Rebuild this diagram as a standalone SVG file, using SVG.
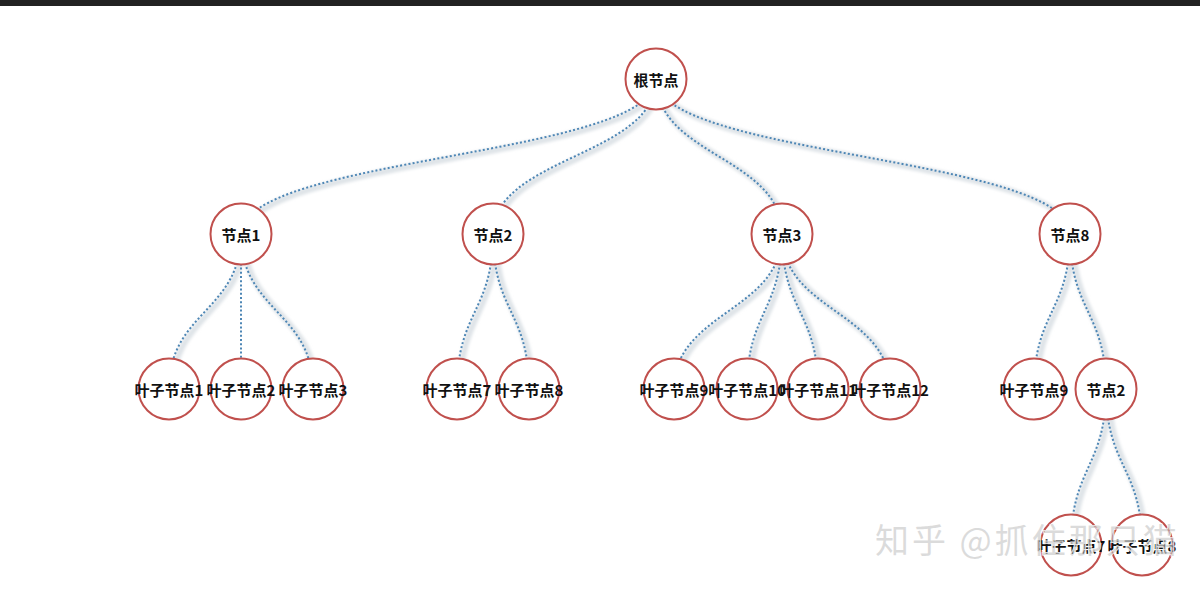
<svg xmlns="http://www.w3.org/2000/svg" width="1200" height="591" viewBox="0 0 1200 591">
<defs>
<filter id="sh" x="-10%" y="-10%" width="120%" height="120%"><feGaussianBlur stdDeviation="1.5"/></filter>
<style>
.sh{fill:none;stroke:#dfe4e8;stroke-width:6;filter:url(#sh)}
.ln{fill:none;stroke:#4d86b5;stroke-width:2;stroke-dasharray:2 2.2}
.nd circle{fill:#fff;stroke:#c0504d;stroke-width:2}
.nd text{font-family:"Noto Sans CJK SC","Noto Sans",sans-serif;font-weight:bold;font-size:15px;fill:#111;text-anchor:middle;dominant-baseline:central}
.wm{font-family:"Noto Sans CJK SC",sans-serif;font-size:34px;letter-spacing:3px;fill:#bdbdbd;fill-opacity:0.55;stroke:#fff;stroke-width:1.2;stroke-opacity:0.9;paint-order:stroke}
</style>
</defs>
<rect width="1200" height="591" fill="#fff"/>
<rect width="1200" height="6" fill="#222"/>
<g id="connectors">
<g transform="translate(3,2)">
<path class="sh" d="M656 79C656 156.5 241 156.5 241 234"/>
<path class="sh" d="M656 79C656 156.5 493 156.5 493 234"/>
<path class="sh" d="M656 79C656 156.5 782 156.5 782 234"/>
<path class="sh" d="M656 79C656 156.5 1070 156.5 1070 234"/>
<path class="sh" d="M241 234C241 311.5 169 311.5 169 389"/>
<path class="sh" d="M241 234L241 389"/>
<path class="sh" d="M241 234C241 311.5 313 311.5 313 389"/>
<path class="sh" d="M493 234C493 311.5 457 311.5 457 389"/>
<path class="sh" d="M493 234C493 311.5 529 311.5 529 389"/>
<path class="sh" d="M782 234C782 311.5 674 311.5 674 389"/>
<path class="sh" d="M782 234C782 311.5 747 311.5 747 389"/>
<path class="sh" d="M782 234C782 311.5 818 311.5 818 389"/>
<path class="sh" d="M782 234C782 311.5 890 311.5 890 389"/>
<path class="sh" d="M1070 234C1070 311.5 1034 311.5 1034 389"/>
<path class="sh" d="M1070 234C1070 311.5 1106 311.5 1106 389"/>
<path class="sh" d="M1106 389C1106 467 1071 467 1071 545"/>
<path class="sh" d="M1106 389C1106 467 1142 467 1142 545"/>
</g>
<path class="ln" d="M656 79C656 156.5 241 156.5 241 234"/>
<path class="ln" d="M656 79C656 156.5 493 156.5 493 234"/>
<path class="ln" d="M656 79C656 156.5 782 156.5 782 234"/>
<path class="ln" d="M656 79C656 156.5 1070 156.5 1070 234"/>
<path class="ln" d="M241 234C241 311.5 169 311.5 169 389"/>
<path class="ln" d="M241 234L241 389"/>
<path class="ln" d="M241 234C241 311.5 313 311.5 313 389"/>
<path class="ln" d="M493 234C493 311.5 457 311.5 457 389"/>
<path class="ln" d="M493 234C493 311.5 529 311.5 529 389"/>
<path class="ln" d="M782 234C782 311.5 674 311.5 674 389"/>
<path class="ln" d="M782 234C782 311.5 747 311.5 747 389"/>
<path class="ln" d="M782 234C782 311.5 818 311.5 818 389"/>
<path class="ln" d="M782 234C782 311.5 890 311.5 890 389"/>
<path class="ln" d="M1070 234C1070 311.5 1034 311.5 1034 389"/>
<path class="ln" d="M1070 234C1070 311.5 1106 311.5 1106 389"/>
<path class="ln" d="M1106 389C1106 467 1071 467 1071 545"/>
<path class="ln" d="M1106 389C1106 467 1142 467 1142 545"/>
</g>
<g id="root" class="nd"><circle cx="656" cy="79" r="30.5"/><text x="656" y="79">根节点</text></g>
<g id="n1" class="nd"><circle cx="241" cy="234" r="30.5"/><text x="241" y="234">节点1</text></g>
<g id="n2" class="nd"><circle cx="493" cy="234" r="30.5"/><text x="493" y="234">节点2</text></g>
<g id="n3" class="nd"><circle cx="782" cy="234" r="30.5"/><text x="782" y="234">节点3</text></g>
<g id="n8" class="nd"><circle cx="1070" cy="234" r="30.5"/><text x="1070" y="234">节点8</text></g>
<g id="l1" class="nd"><circle cx="169" cy="389" r="30.5"/><text x="169" y="389">叶子节点1</text></g>
<g id="l2" class="nd"><circle cx="241" cy="389" r="30.5"/><text x="241" y="389">叶子节点2</text></g>
<g id="l3" class="nd"><circle cx="313" cy="389" r="30.5"/><text x="313" y="389">叶子节点3</text></g>
<g id="l7" class="nd"><circle cx="457" cy="389" r="30.5"/><text x="457" y="389">叶子节点7</text></g>
<g id="l8" class="nd"><circle cx="529" cy="389" r="30.5"/><text x="529" y="389">叶子节点8</text></g>
<g id="l9" class="nd"><circle cx="674" cy="389" r="30.5"/><text x="674" y="389">叶子节点9</text></g>
<g id="l10" class="nd"><circle cx="747" cy="389" r="30.5"/><text x="747" y="389">叶子节点10</text></g>
<g id="l11" class="nd"><circle cx="818" cy="389" r="30.5"/><text x="818" y="389">叶子节点11</text></g>
<g id="l12" class="nd"><circle cx="890" cy="389" r="30.5"/><text x="890" y="389">叶子节点12</text></g>
<g id="l9b" class="nd"><circle cx="1034" cy="389" r="30.5"/><text x="1034" y="389">叶子节点9</text></g>
<g id="n2b" class="nd"><circle cx="1106" cy="389" r="30.5"/><text x="1106" y="389">节点2</text></g>
<g id="l7b" class="nd"><circle cx="1071" cy="545" r="30.5"/><text x="1071" y="545">叶子节点7</text></g>
<g id="l8b" class="nd"><circle cx="1142" cy="545" r="30.5"/><text x="1142" y="545">叶子节点8</text></g>
<text class="wm" x="875" y="553">知乎 @抓住那只猫</text>
</svg>
